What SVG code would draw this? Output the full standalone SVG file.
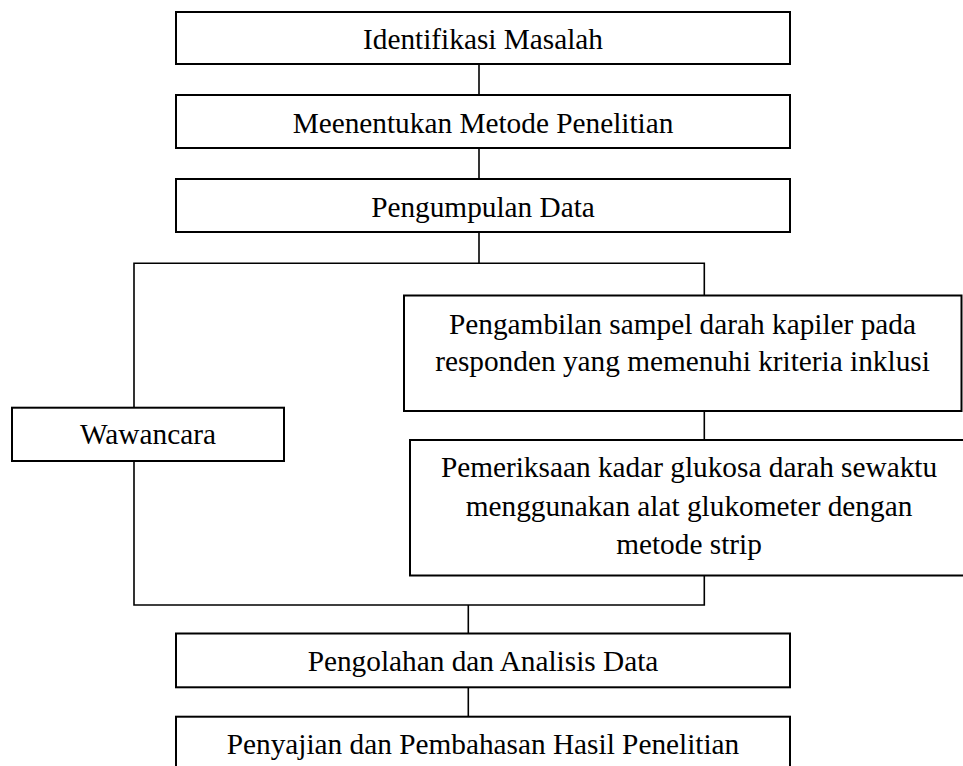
<svg xmlns="http://www.w3.org/2000/svg" width="963" height="766" viewBox="0 0 963 766">
<style>
.box{fill:#fff;stroke:#000;stroke-width:2}
.lbl{font-family:"Liberation Serif","Times New Roman",serif;font-size:29.3px;fill:#000;text-anchor:middle}
.con{fill:none;stroke:#000;stroke-width:1.6}
</style>
<rect width="963" height="766" fill="#fff"/>
<g id="connectors">
<line class="con" x1="479" y1="64" x2="479" y2="95"/>
<line class="con" x1="479" y1="148" x2="479" y2="179"/>
<line class="con" x1="479" y1="232" x2="479" y2="263"/>
<polyline class="con" points="134,407.5 134,263.3 704.3,263.3 704.3,295.5"/>
<line class="con" x1="704.3" y1="411" x2="704.3" y2="440"/>
<polyline class="con" points="134,461 134,605 704.3,605 704.3,575.5"/>
<line class="con" x1="468.3" y1="605" x2="468.3" y2="633.5"/>
<line class="con" x1="468.3" y1="687.3" x2="468.3" y2="716.7"/>
</g>
<g id="identifikasi">
<rect class="box" x="176" y="12" width="614" height="52"/>
<text class="lbl" x="483" y="49.3">Identifikasi Masalah</text>
</g>
<g id="metode">
<rect class="box" x="176" y="95" width="614" height="53"/>
<text class="lbl" x="483" y="132.7">Meenentukan Metode Penelitian</text>
</g>
<g id="pengumpulan">
<rect class="box" x="176" y="179" width="614" height="53"/>
<text class="lbl" x="483" y="216.7">Pengumpulan Data</text>
</g>
<g id="wawancara">
<rect class="box" x="12" y="407.7" width="272" height="53.3"/>
<text class="lbl" x="148" y="444">Wawancara</text>
</g>
<g id="pengambilan">
<rect class="box" x="404" y="295.5" width="557.5" height="115.5"/>
<text class="lbl" x="682.5" y="334">Pengambilan sampel darah kapiler pada</text>
<text class="lbl" x="682.5" y="371">responden yang memenuhi kriteria inklusi</text>
</g>
<g id="pemeriksaan">
<rect class="box" x="410" y="440" width="560" height="135.5"/>
<text class="lbl" x="689" y="477.3">Pemeriksaan kadar glukosa darah sewaktu</text>
<text class="lbl" x="689" y="516">menggunakan alat glukometer dengan</text>
<text class="lbl" x="689" y="554">metode strip</text>
</g>
<g id="pengolahan">
<rect class="box" x="176" y="633.5" width="614" height="53.8"/>
<text class="lbl" x="483" y="670.7">Pengolahan dan Analisis Data</text>
</g>
<g id="penyajian">
<rect class="box" x="176" y="716.7" width="614" height="60"/>
<text class="lbl" x="483" y="754">Penyajian dan Pembahasan Hasil Penelitian</text>
</g>
</svg>
